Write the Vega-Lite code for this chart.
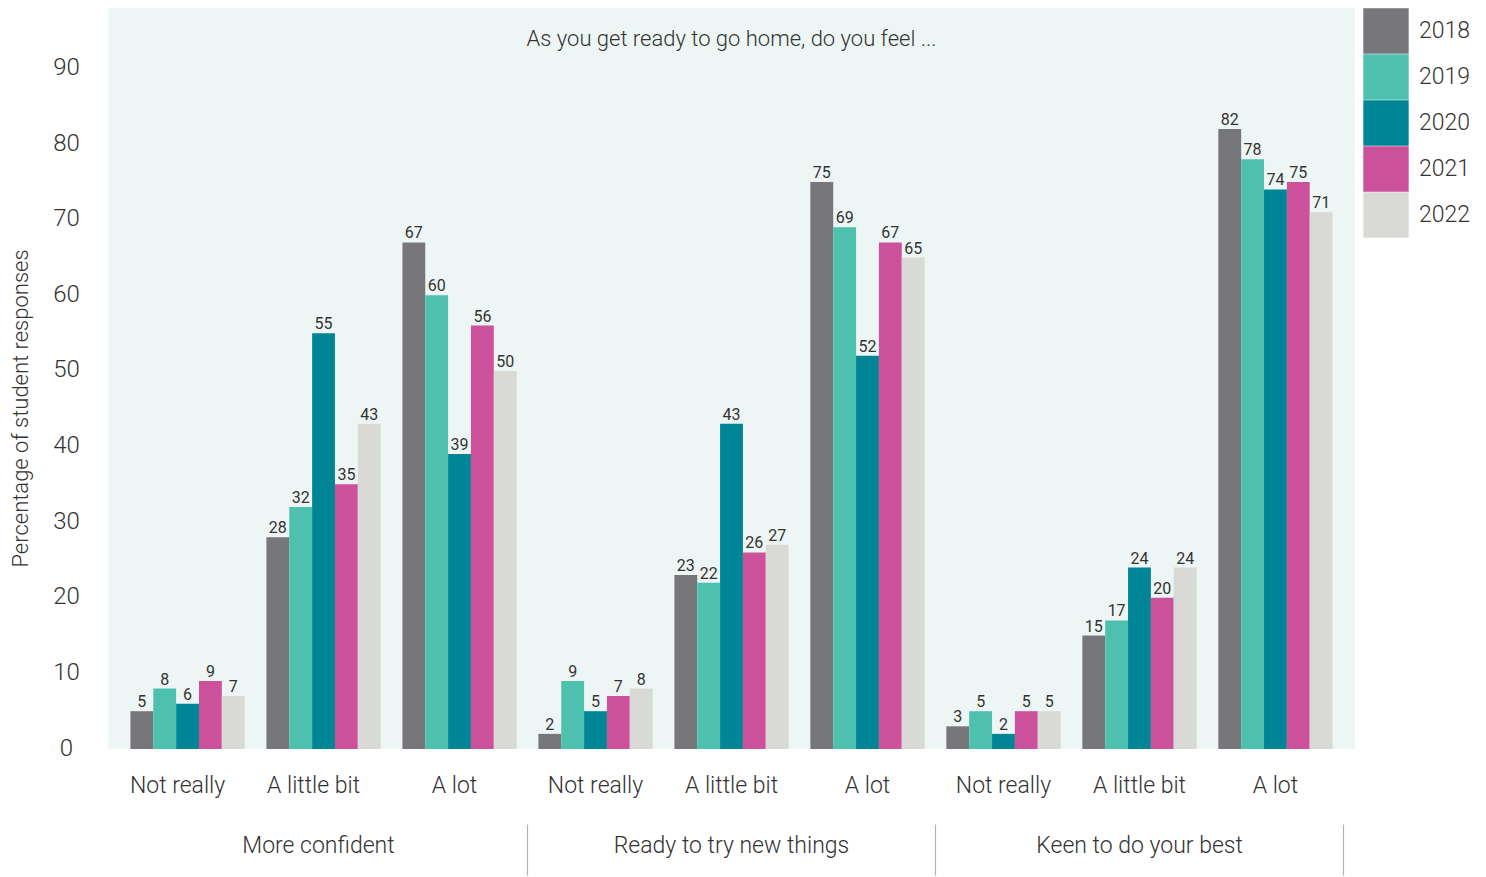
{
  "$schema": "https://vega.github.io/schema/vega-lite/v6.json",
  "width": 1247,
  "height": 741,
  "autosize": {"type": "none"},
  "padding": {"left": 108, "top": 8, "right": 131, "bottom": 128},
  "title": {
    "text": "As you get ready to go home, do you feel ...",
    "frame": "group",
    "anchor": "middle",
    "offset": -60,
    "baseline": "alphabetic",
    "fontSize": 22,
    "fontWeight": 300,
    "color": "#333333"
  },
  "data": {
    "values": [
      {"item": "More confident|Not really", "group": "More confident", "year": "2018", "value": 5},
      {"item": "More confident|Not really", "group": "More confident", "year": "2019", "value": 8},
      {"item": "More confident|Not really", "group": "More confident", "year": "2020", "value": 6},
      {"item": "More confident|Not really", "group": "More confident", "year": "2021", "value": 9},
      {"item": "More confident|Not really", "group": "More confident", "year": "2022", "value": 7},
      {"item": "More confident|A little bit", "group": "More confident", "year": "2018", "value": 28},
      {"item": "More confident|A little bit", "group": "More confident", "year": "2019", "value": 32},
      {"item": "More confident|A little bit", "group": "More confident", "year": "2020", "value": 55},
      {"item": "More confident|A little bit", "group": "More confident", "year": "2021", "value": 35},
      {"item": "More confident|A little bit", "group": "More confident", "year": "2022", "value": 43},
      {"item": "More confident|A lot", "group": "More confident", "year": "2018", "value": 67},
      {"item": "More confident|A lot", "group": "More confident", "year": "2019", "value": 60},
      {"item": "More confident|A lot", "group": "More confident", "year": "2020", "value": 39},
      {"item": "More confident|A lot", "group": "More confident", "year": "2021", "value": 56},
      {"item": "More confident|A lot", "group": "More confident", "year": "2022", "value": 50},
      {"item": "Ready to try new things|Not really", "group": "Ready to try new things", "year": "2018", "value": 2},
      {"item": "Ready to try new things|Not really", "group": "Ready to try new things", "year": "2019", "value": 9},
      {"item": "Ready to try new things|Not really", "group": "Ready to try new things", "year": "2020", "value": 5},
      {"item": "Ready to try new things|Not really", "group": "Ready to try new things", "year": "2021", "value": 7},
      {"item": "Ready to try new things|Not really", "group": "Ready to try new things", "year": "2022", "value": 8},
      {"item": "Ready to try new things|A little bit", "group": "Ready to try new things", "year": "2018", "value": 23},
      {"item": "Ready to try new things|A little bit", "group": "Ready to try new things", "year": "2019", "value": 22},
      {"item": "Ready to try new things|A little bit", "group": "Ready to try new things", "year": "2020", "value": 43},
      {"item": "Ready to try new things|A little bit", "group": "Ready to try new things", "year": "2021", "value": 26},
      {"item": "Ready to try new things|A little bit", "group": "Ready to try new things", "year": "2022", "value": 27},
      {"item": "Ready to try new things|A lot", "group": "Ready to try new things", "year": "2018", "value": 75},
      {"item": "Ready to try new things|A lot", "group": "Ready to try new things", "year": "2019", "value": 69},
      {"item": "Ready to try new things|A lot", "group": "Ready to try new things", "year": "2020", "value": 52},
      {"item": "Ready to try new things|A lot", "group": "Ready to try new things", "year": "2021", "value": 67},
      {"item": "Ready to try new things|A lot", "group": "Ready to try new things", "year": "2022", "value": 65},
      {"item": "Keen to do your best|Not really", "group": "Keen to do your best", "year": "2018", "value": 3},
      {"item": "Keen to do your best|Not really", "group": "Keen to do your best", "year": "2019", "value": 5},
      {"item": "Keen to do your best|Not really", "group": "Keen to do your best", "year": "2020", "value": 2},
      {"item": "Keen to do your best|Not really", "group": "Keen to do your best", "year": "2021", "value": 5},
      {"item": "Keen to do your best|Not really", "group": "Keen to do your best", "year": "2022", "value": 5},
      {"item": "Keen to do your best|A little bit", "group": "Keen to do your best", "year": "2018", "value": 15},
      {"item": "Keen to do your best|A little bit", "group": "Keen to do your best", "year": "2019", "value": 17},
      {"item": "Keen to do your best|A little bit", "group": "Keen to do your best", "year": "2020", "value": 24},
      {"item": "Keen to do your best|A little bit", "group": "Keen to do your best", "year": "2021", "value": 20},
      {"item": "Keen to do your best|A little bit", "group": "Keen to do your best", "year": "2022", "value": 24},
      {"item": "Keen to do your best|A lot", "group": "Keen to do your best", "year": "2018", "value": 82},
      {"item": "Keen to do your best|A lot", "group": "Keen to do your best", "year": "2019", "value": 78},
      {"item": "Keen to do your best|A lot", "group": "Keen to do your best", "year": "2020", "value": 74},
      {"item": "Keen to do your best|A lot", "group": "Keen to do your best", "year": "2021", "value": 75},
      {"item": "Keen to do your best|A lot", "group": "Keen to do your best", "year": "2022", "value": 71}
    ]
  },
  "layer": [
    {
      "encoding": {
        "x": {
          "field": "item",
          "type": "nominal",
          "sort": null,
          "scale": {"paddingInner": 0.16, "paddingOuter": 0.165},
          "axis": {
            "title": null,
            "orient": "bottom",
            "domain": false,
            "ticks": false,
            "tickSize": 0,
            "labelExpr": "split(datum.label, '|')[1]",
            "labelAngle": 0,
            "labelAlign": "center",
            "labelBaseline": "alphabetic",
            "labelPadding": 43,
            "labelOffset": {
              "condition": [
                {"test": "datum.value === 'More confident|A lot'", "value": -5},
                {"test": "indexof(datum.value, 'More confident|') === 0", "value": -10}
              ],
              "value": 0
            },
            "labelFontSize": 23,
            "labelFontWeight": 300,
            "labelColor": "#333333",
            "labelLimit": 0
          }
        },
        "xOffset": {
          "field": "year",
          "type": "nominal",
          "scale": {"paddingInner": 0, "paddingOuter": 0}
        },
        "y": {
          "field": "value",
          "type": "quantitative",
          "scale": {"domain": [0, 98], "nice": false},
          "axis": {
            "title": "Percentage of student responses",
            "values": [0, 10, 20, 30, 40, 50, 60, 70, 80, 90],
            "domain": false,
            "ticks": false,
            "tickSize": 0,
            "grid": false,
            "labelAlign": "center",
            "labelBaseline": "middle",
            "labelPadding": 42,
            "labelOffset": -1,
            "labelFontSize": 24,
            "labelFontWeight": 300,
            "labelColor": "#333333",
            "titleFontSize": 22,
            "titleFontWeight": 300,
            "titleColor": "#333333",
            "titleAngle": 270,
            "titleAlign": "center",
            "titleBaseline": "middle",
            "titleX": -88,
            "titleY": 400
          }
        }
      },
      "layer": [
        {
          "mark": {"type": "bar"},
          "encoding": {
            "color": {
              "field": "year",
              "type": "nominal",
              "scale": {
                "domain": ["2018", "2019", "2020", "2021", "2022"],
                "range": ["#77777b", "#4dc0ae", "#008597", "#cb519b", "#d9d9d6"]
              },
              "legend": {
                "title": null,
                "orient": "right",
                "offset": 8,
                "padding": 0,
                "symbolType": "square",
                "symbolSize": 2060,
                "symbolStrokeWidth": 0,
                "symbolOpacity": 1,
                "rowPadding": 0,
                "labelFontSize": 23,
                "labelFontWeight": 300,
                "labelColor": "#333333",
                "labelOffset": 10
              }
            }
          }
        },
        {
          "mark": {"type": "text", "baseline": "alphabetic", "dy": -4, "fontSize": 16, "color": "#333333"},
          "encoding": {
            "text": {"field": "value", "type": "quantitative"}
          }
        }
      ]
    },
    {
      "mark": {"type": "rule", "strokeOpacity": 0},
      "encoding": {
        "x": {
          "field": "group",
          "type": "nominal",
          "sort": null,
          "scale": {"paddingInner": 0, "paddingOuter": 0.028},
          "axis": {
            "title": null,
            "orient": "bottom",
            "offset": 75,
            "domain": false,
            "ticks": true,
            "bandPosition": 1,
            "tickSize": 51,
            "tickColor": "#b3b3b3",
            "tickWidth": 1.2,
            "labelAngle": 0,
            "labelAlign": "center",
            "labelBaseline": "alphabetic",
            "labelPadding": -23,
            "labelOffset": {
              "condition": {"test": "datum.value === 'More confident'", "value": -5},
              "value": 0
            },
            "labelFontSize": 23,
            "labelFontWeight": 300,
            "labelColor": "#333333",
            "labelLimit": 0
          }
        }
      }
    }
  ],
  "resolve": {"scale": {"x": "independent"}, "axis": {"x": "independent"}},
  "config": {
    "font": "Roboto",
    "view": {"fill": "#edf6f4", "stroke": null}
  }
}
